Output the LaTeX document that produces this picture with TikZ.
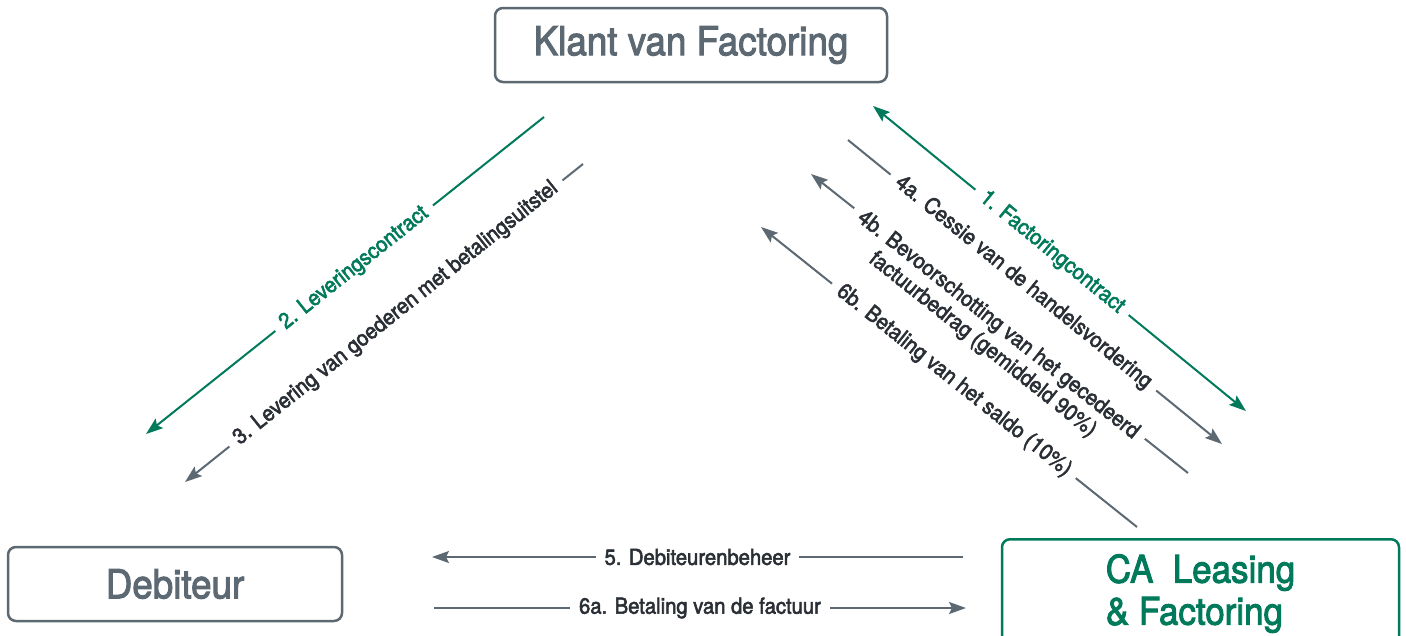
\documentclass[tikz,border=0pt]{standalone}
\usepackage{fontspec}
\setmainfont{TeX Gyre Heros}[FakeStretch=0.92,FakeBold=2.5]
\usetikzlibrary{arrows.meta}
\definecolor{cagreen}{RGB}{0,122,90}
\definecolor{cagray}{RGB}{92,104,114}
\definecolor{cadark}{RGB}{42,47,53}
\tikzset{
  >={Stealth[length=17pt,width=12pt,inset=3pt]},
  partybox/.style={draw=cagray,line width=2.5pt,rounded corners=8pt,text=cagray,
    font=\fontsize{40}{44}\selectfont,inner sep=0pt},
  flow/.style={line width=2pt,cagray},
  flowlabel/.style={sloped,fill=white,inner xsep=9pt,inner ysep=2pt,text=cadark,
    font=\fontsize{22}{25}\selectfont}
}
\begin{document}
\begin{tikzpicture}[x=1pt,y=-1pt]
  \useasboundingbox (0,0) rectangle (1406,635);
  \clip (0,0) rectangle (1406,635);
  % parties
  \node[partybox,minimum width=392pt,minimum height=74pt] (klant) at (691,45) {Klant van Factoring};
  \node[partybox,minimum width=334pt,minimum height=74pt] (debiteur) at (175,584) {Debiteur};
  \node[partybox,draw=cagreen,text=cagreen,anchor=north,minimum width=397pt,inner ysep=15pt,
    align=left,font=\fontsize{38}{42}\selectfont] (ca) at (1200.5,538) {CA~~Leasing\\\& Factoring};
  % free ends of the flows
  \coordinate (f1a) at (873,106);  \coordinate (f1b) at (1246,411);
  \coordinate (f2a) at (544,117);  \coordinate (f2b) at (146,434);
  \coordinate (f3a) at (583,164);  \coordinate (f3b) at (185,482);
  \coordinate (f4a) at (848,140);  \coordinate (f4b) at (1222,444);
  \coordinate (g4a) at (1188,473); \coordinate (g4b) at (811,174);
  \coordinate (f5a) at (963,557);  \coordinate (f5b) at (432,557);
  \coordinate (f6a) at (434,608);  \coordinate (f6b) at (966,608);
  \coordinate (g6a) at (1137,527); \coordinate (g6b) at (761,227);
  % flows
  \draw[flow,cagreen,<->] (f1a) -- node[flowlabel,pos=0.48,text=cagreen]{1. Factoringcontract} (f1b);
  \draw[flow,cagreen,->] (f2a) -- node[flowlabel,pos=0.477,text=cagreen]{2. Leveringscontract} (f2b);
  \draw[flow,->] (f3a) -- node[flowlabel,pos=0.47]{3. Levering van goederen met betalingsuitstel} (f3b);
  \draw[flow,->] (f4a) -- node[flowlabel,pos=0.469]{4a. Cessie van de handelsvordering} (f4b);
  \draw[flow,->] (g4a) -- node[flowlabel,pos=0.5,anchor=north,outer ysep=-10pt,align=center]{4b. Bevoorschotting van het gecedeerd\\factuurbedrag (gemiddeld 90\%)} (g4b);
  \draw[flow,->] (f5a) -- node[flowlabel,pos=0.5]{5. Debiteurenbeheer} (f5b);
  \draw[flow,->] (f6a) -- node[flowlabel,pos=0.5]{6a. Betaling van de factuur} (f6b);
  \draw[flow,->] (g6a) -- node[flowlabel,pos=0.487]{6b. Betaling van het saldo (10\%)} (g6b);
\end{tikzpicture}
\end{document}
